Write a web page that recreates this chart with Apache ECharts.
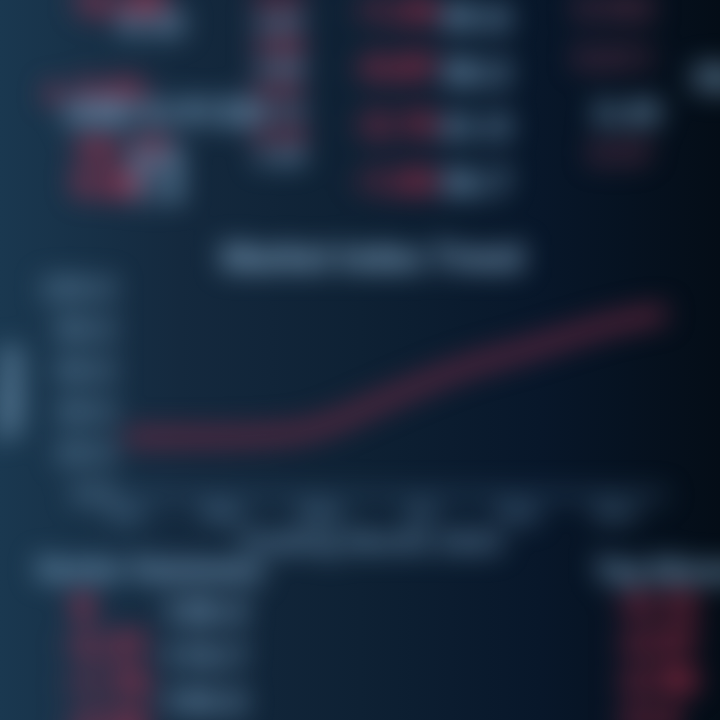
<!DOCTYPE html>
<html>
<head>
<meta charset="utf-8">
<script src="https://cdn.jsdelivr.net/npm/echarts@6/dist/echarts.min.js"></script>
<style>
html,body{margin:0;padding:0;width:720px;height:720px;overflow:hidden;background:#0a1828;}
#wrap{position:absolute;left:0;top:0;width:720px;height:720px;
 background:linear-gradient(90deg,#1a3850 0%,#14293e 25%,#0e2134 50%,#08172a 75%,#040d17 100%);}
#main{position:absolute;left:-30px;top:-30px;width:780px;height:780px;filter:blur(14px);}
</style>
</head>
<body>
<div id="wrap"></div>
<div id="main"></div>
<script>
var categories = ['Jan','Feb','Mar','Apr','May','Jun','Jul','Aug','Sep','Oct','Nov','Dec'];
var values = [28.3, 28.3, 28.5, 29.5, 33.5, 43.4, 53.7, 62.9, 69.8, 77.1, 84.0, 88.8];
var yTicks = [0, 20, 40, 60, 80, 100];
var titleText = 'Market Index Trend';
var yName = 'Value';
var xName = 'Trading Month 2023';
var topCol2 = ['3.21', '2.87', '4.05', '3.66', '2.91', '3.12', '2.74', '3.48'];
var topCol3 = ['-1.24', '-0.87', '-2.15', '-1.03'];
var topCol4 = ['45.6', '38.2', '41.9', '36.7'];
var botLeft = ['-2.31', '-1.75', '-3.02'];
var botLeft2 = ['128.4', '119.7', '133.2'];
var botRight = ['-4.12', '-3.57', '-2.98', '-2.4'];

var off = 30;
var chart = echarts.init(document.getElementById('main'), null, {renderer:'canvas'});
var red = '#d23654', gray = '#86b0d2', dimRed = '#7a3a52';
var g = [];
function txt(t, x, y, color, size){
  g.push({type:'text', left:x+off, top:y+off, style:{text:t, fill:color, font:'900 '+size+'px Roboto'}});
}
function col(arr, x, y0, dy, color, size){
  arr.forEach(function(t,i){ txt(t, x, y0+i*dy, color, size); });
}
txt('12.45', 72, -12, red, 36);
txt('8.32', 120, 10, gray, 32);
txt('▲ 2.4%', 38, 76, red, 32);
txt('USD 0.9132', 65, 98, gray, 36);
txt('10.17', 72, 135, red, 36);
txt('9.8', 130, 145, gray, 36);
txt('9.86', 72, 170, red, 36);
txt('7.4', 130, 175, gray, 36);
topCol2.forEach(function(t,i){ txt(t, 255, -8+i*22, i%2===0?red:gray, 24); });
col(topCol3, 352, -4, 57, red, 34);
col(topCol4, 440, 3, 55, gray, 34);
txt('0.532', 575, -5, dimRed, 30);
txt('0.611', 575, 45, dimRed, 30);
txt('0.49', 595, 100, gray, 32);
txt('0.57', 590, 140, dimRed, 30);
txt('FX', 695, 65, gray, 36);
txt('Sector Summary', 36, 556, gray, 30);
txt('▼', 62, 590, red, 42);
col(botLeft, 60, 630, 40, red, 36);
col(botLeft2, 162, 598, 45, gray, 32);
txt('Top Movers', 595, 558, gray, 30);
col(botRight, 612, 590, 38, red, 34);

chart.setOption({
  backgroundColor:'transparent',
  title:{text:titleText, left:367+off, top:238+off, textAlign:'center',
    textStyle:{color:'#8db3d2', fontSize:34, fontWeight:900, fontFamily:'Roboto'}},
  grid:{left:125+off, right:55+off, top:290+off, bottom:225+off},
  graphic:g,
  xAxis:{type:'category', data:categories, boundaryGap:false,
    name:xName, nameLocation:'middle', nameGap:34,
    nameTextStyle:{color:'#7aa2c4', fontSize:28, fontWeight:900, padding:[0,50,0,0]},
    axisLine:{lineStyle:{color:'#3f6282', width:5}}, axisTick:{show:false},
    axisLabel:{color:'#6890b2', fontSize:22, fontWeight:900}},
  yAxis:{type:'value', min:0, max:100, interval:20,
    name:yName, nameLocation:'middle', nameGap:64, nameRotate:90,
    nameTextStyle:{color:'#8db3d2', fontSize:36, fontWeight:900},
    axisLine:{show:false}, splitLine:{show:false},
    axisLabel:{color:'#789fbf', fontSize:30, fontWeight:900, margin:10,
      formatter:function(v){return yTicks.indexOf(v)>=0? v.toFixed(1):'';}}},
  series:[{type:'line', data:values, smooth:true, symbol:'none',
    lineStyle:{color:'#762b44', width:13}}]
});
</script>
</body>
</html>
